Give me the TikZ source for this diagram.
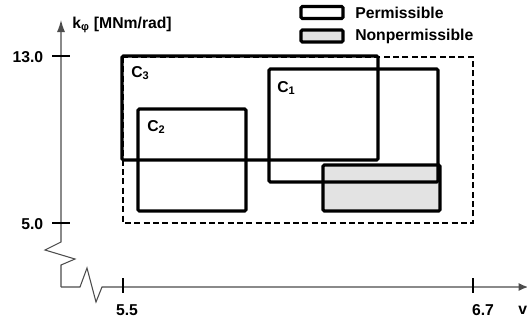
\documentclass[tikz,border=0pt]{standalone}
\usepackage{fontspec}
\setmainfont{Liberation Sans}
\usetikzlibrary{arrows.meta}
\definecolor{npgray}{RGB}{227,227,227}

\begin{document}
\begin{tikzpicture}[x=0.75pt,y=-0.75pt,
  region/.style={line width=2.3pt, rounded corners=1pt},
  axis/.style={line width=0.8pt, black!70},
  tick/.style={line width=1pt},
  font=\fontsize{11.8}{14}\selectfont\bfseries]
\useasboundingbox (0,0) rectangle (527,322);

% axes with breaks
\coordinate (ytop) at (61,20);
\coordinate (origin) at (61,287);
\coordinate (xend) at (528,287);
\draw[axis,-{Latex[length=9pt,width=6pt]}] (origin) -- (61,265) -- (75,259) -- (45,250) -- (61,242) -- (ytop);
\draw[axis,-{Latex[length=7pt,width=6pt]}] (origin) -- (80,287) -- (87,268) -- (96,302) -- (102,287) -- (xend);
\node[anchor=west, inner sep=0] (ylab) at (72,25) {k\textsubscript{φ} [MNm/rad]};
\node[anchor=west, inner sep=0] (xlab) at (518,310) {v};

% ticks
\draw[tick] (52,56) -- (70,56);
\node[anchor=east, inner sep=0] (k13) at (43.5,57) {13.0};
\draw[tick] (52,223) -- (70,223);
\node[anchor=east, inner sep=0] (k5) at (43.5,224) {5.0};
\draw[tick] (123,278) -- (123,293);
\node (v55) at (127,310) {5.5};
\draw[tick] (473,278) -- (473,293);
\node (v67) at (483,310) {6.7};

% admissible range
\draw[line width=1.1pt, dash pattern=on 4.5pt off 2.5pt] (123,57) rectangle (473,223);

% configurations
\fill[npgray, rounded corners=1pt] (323,165) rectangle (440,211);
\draw[region] (323,165) rectangle (440,211);
\draw[region] (122,56) rectangle (378,160);
\draw[region] (138,109) rectangle (246,211);
\draw[region] (269,69) rectangle (438,182);
\node[anchor=north west, inner sep=0] (c3) at (131,66) {C\textsubscript{3}};
\node[anchor=north west, inner sep=0] (c2) at (147,120) {C\textsubscript{2}};
\node[anchor=north west, inner sep=0] (c1) at (277,81) {C\textsubscript{1}};

% legend
\draw[region] (301,6.5) rectangle (343,18.5);
\node[anchor=west, inner sep=0] (perm) at (355,12.5) {Permissible};
\fill[npgray, rounded corners=1pt] (301,30) rectangle (343,42);
\draw[region] (301,30) rectangle (343,42);
\node[anchor=west, inner sep=0] (nonperm) at (355,36) {Nonpermissible};

\end{tikzpicture}
\end{document}
